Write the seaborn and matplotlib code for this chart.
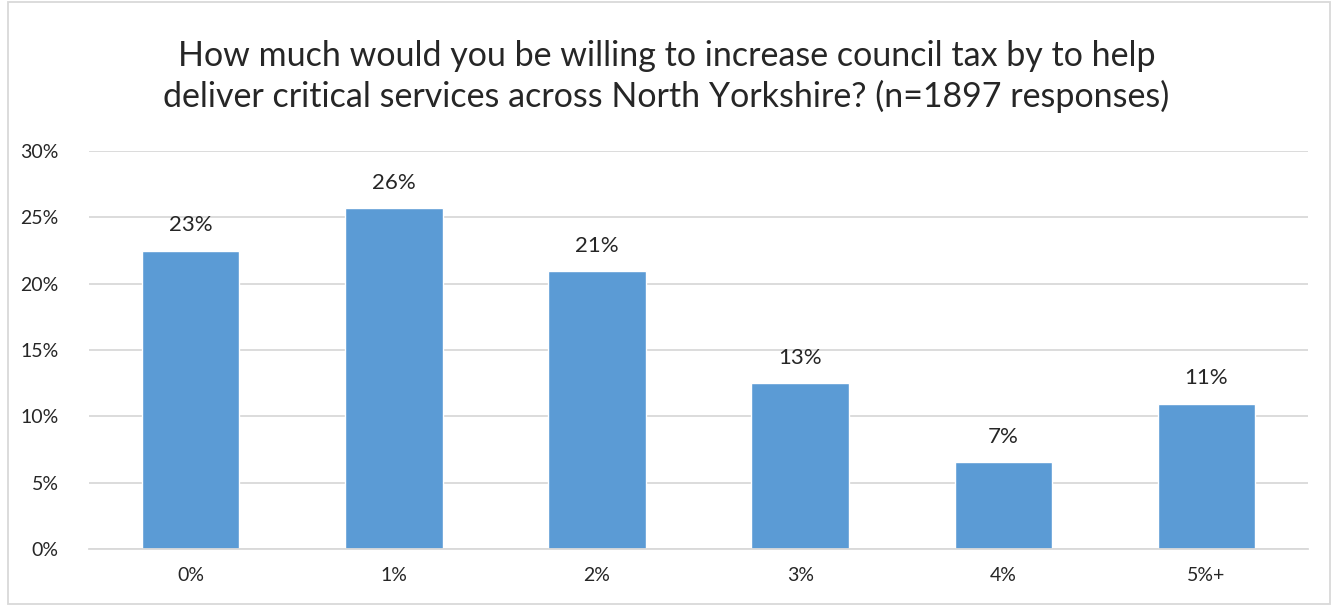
import matplotlib
matplotlib.use("Agg")
import matplotlib.pyplot as plt
import seaborn as sns
import pandas as pd
from matplotlib.patches import Rectangle
from matplotlib.ticker import FixedLocator

categories = ["0%", "1%", "2%", "3%", "4%", "5%+"]
values = [22.5, 25.7, 20.95, 12.5, 6.55, 10.95]
value_labels = ["23%", "26%", "21%", "13%", "7%", "11%"]
y_ticks = [0, 5, 10, 15, 20, 25, 30]
y_tick_labels = ["0%", "5%", "10%", "15%", "20%", "25%", "30%"]
title = ("How much would you be willing to increase council tax by to help\n"
         "deliver critical services across North Yorkshire? (n=1897 responses)")

sns.set_theme(style="white")
plt.rcParams['font.family'] = ['Lato', 'DejaVu Sans']

df = pd.DataFrame({"cat": categories, "val": values})

fig = plt.figure(figsize=(13.33, 6.05), dpi=100)
ax = fig.add_axes([0.0668, 0.0926, 0.9813 - 0.0668, 0.7504 - 0.0926])

sns.barplot(data=df, x="cat", y="val", color="#5b9bd5", width=0.48,
            saturation=1, ax=ax, zorder=3)

ax.set_ylim(0, 30)
ax.set_xlim(-0.5, len(categories) - 0.5)
ax.set_yticks(y_ticks)
ax.set_yticklabels(y_tick_labels)
ax.yaxis.grid(True, color="#d9d9d9", linewidth=1.3, zorder=0)
ax.set_axisbelow(True)
for s in ["top", "right", "left"]:
    ax.spines[s].set_visible(False)
ax.spines["bottom"].set_color("#d9d9d9")
ax.spines["bottom"].set_linewidth(1.3)
ax.spines["bottom"].set_zorder(4)

ax.set_xlabel("")
ax.set_ylabel("")
ax.tick_params(axis="y", length=0, labelsize=14, labelcolor="#262626", pad=22)
ax.tick_params(axis="x", which="major", length=0, labelsize=14, labelcolor="#262626", pad=13)
ax.xaxis.set_minor_locator(FixedLocator([i - 0.5 for i in range(len(categories) + 1)]))
ax.tick_params(axis="x", which="minor", length=7, width=1.3, color="#d9d9d9", direction="out")

for i, (v, lab) in enumerate(zip(values, value_labels)):
    ax.annotate(lab, (i, v), xytext=(0, 11), textcoords="offset points",
                ha="center", va="bottom", fontsize=16, color="#262626")

fig.text(0.5, 0.874, title, ha="center", va="center", fontsize=24.5,
         color="#262626", linespacing=1.3)

fig.patches.append(Rectangle((0.006, 0.002), 0.992, 0.995, transform=fig.transFigure,
                             fill=False, edgecolor="#d9d9d9", linewidth=1.3))

fig.savefig("out.png", dpi=100)
